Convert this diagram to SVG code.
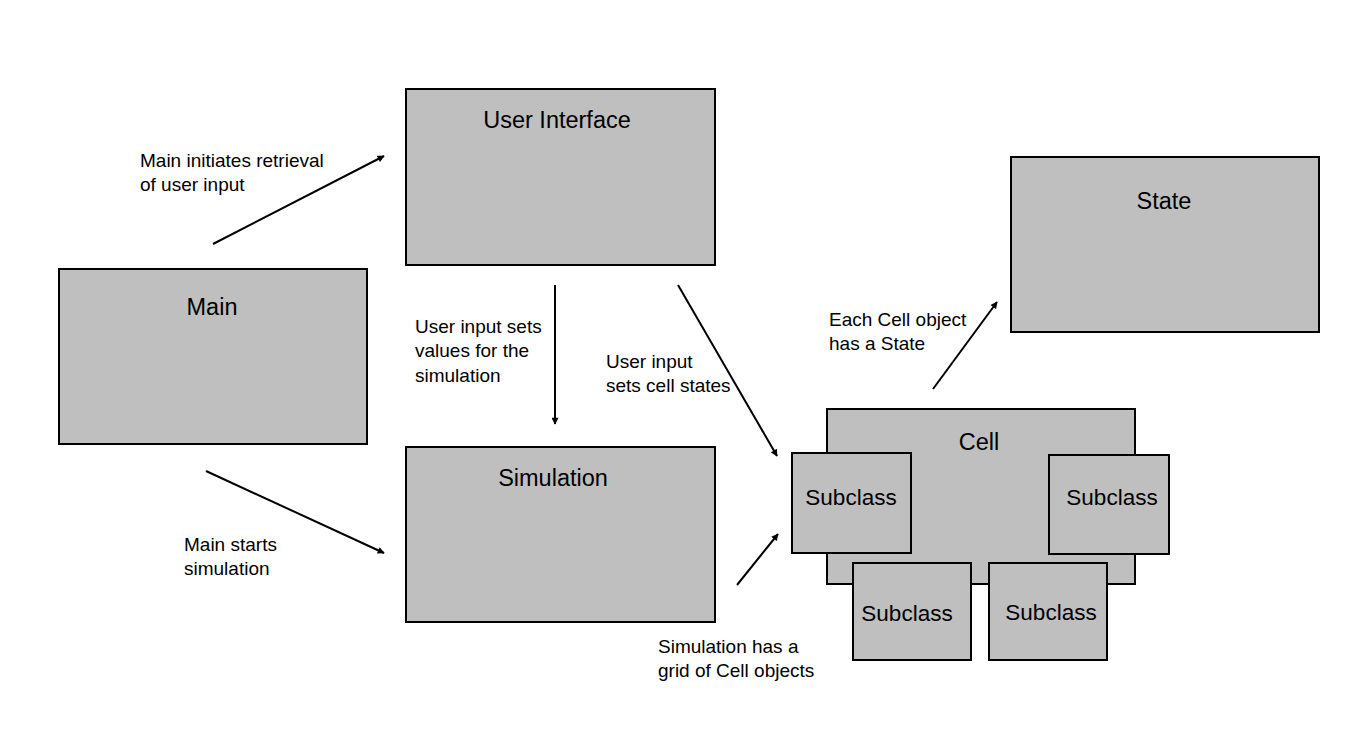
<svg xmlns="http://www.w3.org/2000/svg" width="1372" height="746" viewBox="0 0 1372 746">
<defs>
<marker id="ah" viewBox="0 0 10 10" refX="9" refY="5" markerWidth="8" markerHeight="7" markerUnits="userSpaceOnUse" orient="auto">
<path d="M0,0 L10,5 L0,10 z" fill="#000"/>
</marker>
</defs>
<style>
.box{fill:#bfbfbf;stroke:#000;stroke-width:2}
.t{font-family:"Liberation Sans",Arial,sans-serif;font-size:23.5px;fill:#000;text-anchor:middle}
.s{font-family:"Liberation Sans",Arial,sans-serif;font-size:22.5px;fill:#000;text-anchor:middle}
.l{font-family:"Liberation Sans",Arial,sans-serif;font-size:19px;fill:#000}
.c{stroke:#000;stroke-width:2;fill:none;marker-end:url(#ah)}
</style>
<rect width="1372" height="746" fill="#fff"/>
<g id="ui"><rect class="box" x="406" y="89" width="309" height="176"/><text class="t" x="557" y="128">User Interface</text></g>
<g id="main"><rect class="box" x="59" y="269" width="308" height="175"/><text class="t" x="212" y="315">Main</text></g>
<g id="simulation"><rect class="box" x="406" y="447" width="309" height="175"/><text class="t" x="553" y="486">Simulation</text></g>
<g id="state"><rect class="box" x="1011" y="157" width="308" height="175"/><text class="t" x="1164" y="209">State</text></g>
<g id="cell"><rect class="box" x="827" y="409" width="308" height="175"/><text class="t" x="979" y="450">Cell</text></g>
<g id="sub1"><rect class="box" x="792" y="453" width="119" height="100"/><text class="s" x="851" y="505">Subclass</text></g>
<g id="sub2"><rect class="box" x="1049" y="455" width="120" height="99"/><text class="s" x="1112" y="505">Subclass</text></g>
<g id="sub3"><rect class="box" x="853" y="563" width="118" height="97"/><text class="s" x="907" y="621">Subclass</text></g>
<g id="sub4"><rect class="box" x="989" y="563" width="118" height="97"/><text class="s" x="1051" y="620">Subclass</text></g>
<g id="connectors">
<line class="c" x1="213" y1="244" x2="384" y2="156"/>
<line class="c" x1="555" y1="285" x2="555" y2="424"/>
<line class="c" x1="678" y1="285" x2="777" y2="456"/>
<line class="c" x1="206" y1="471" x2="384" y2="553"/>
<line class="c" x1="737" y1="585" x2="778" y2="534"/>
<line class="c" x1="933" y1="389" x2="997" y2="302"/>
</g>
<g id="labels">
<text class="l" x="140" y="167">Main initiates retrieval</text>
<text class="l" x="140" y="191">of user input</text>
<text class="l" x="415" y="333">User input sets</text>
<text class="l" x="415" y="357">values for the</text>
<text class="l" x="415" y="382">simulation</text>
<text class="l" x="606" y="368">User input</text>
<text class="l" x="606" y="392">sets cell states</text>
<text class="l" x="184" y="551">Main starts</text>
<text class="l" x="184" y="575">simulation</text>
<text class="l" x="658" y="653">Simulation has a</text>
<text class="l" x="658" y="677">grid of Cell objects</text>
<text class="l" x="829" y="326">Each Cell object</text>
<text class="l" x="829" y="350">has a State</text>
</g>
</svg>
